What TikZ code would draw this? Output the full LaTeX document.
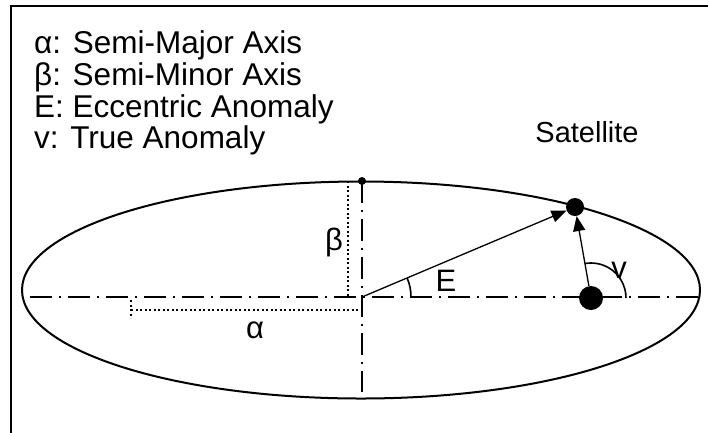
\documentclass[tikz,border=0pt]{standalone}
\usepackage{fontspec}
\setmainfont{Liberation Sans}
\usetikzlibrary{arrows.meta}
\tikzset{
  axisline/.style={line width=1.6pt, dash pattern=on 22pt off 7pt on 2pt off 7pt},
  dimline/.style={line width=1.6pt, dash pattern=on 2pt off 2.5pt},
  vec/.style={line width=1.3pt, -{Triangle[length=15pt,width=12pt]}},
  body/.style={circle, fill=black, inner sep=0pt},
  legend/.style={font=\fontsize{31.5}{34}\selectfont, anchor=base west, inner sep=0pt},
  lbl/.style={font=\fontsize{31}{34}\selectfont, inner sep=0pt},
}

\begin{document}
\begin{tikzpicture}[x=1pt,y=-1pt]
\useasboundingbox (0,0) rectangle (708,432);
\coordinate (O) at (362,297);
\coordinate (T) at (362,181);
\coordinate (L) at (30,297);
\coordinate (R) at (700,297);
\coordinate (B) at (362,392);
\coordinate (P) at (131,310);
\coordinate (Q) at (362,310);

% frame and orbit
\draw[line width=2pt] (720,6) -| (11,440);
\draw[line width=2pt] (361,290) ellipse (339 and 108.5);

% axes
\draw[axisline] (L) -- (R);
\draw[axisline] (T) -- (B);
\draw[line width=1.6pt] (O) -- (Q);

% semi-axes
\draw[dimline] (348,181) -- (348,297);
\draw[dimline] (P) -- (Q);
\draw[dimline] (131,300) -- (131,318);

\node[body, minimum size=8pt] (top) at (T) {};
\node[body, minimum size=18pt] (sat) at (575,207) {};
\node[body, minimum size=24pt] (foc) at (591,298) {};

\draw[vec] (O) -- (sat);
\draw[vec] (foc) -- (sat);
\draw[line width=1.6pt] (O) ++(49,0) arc[start angle=0, end angle=-22.9, radius=49];
\draw[line width=1.6pt] (foc) ++(35,0) arc[start angle=0, end angle=-100, radius=35];

\node[legend] (leg1) at (34,53) {α: Semi-Major Axis};
\node[legend] (leg2) at (34,85) {β: Semi-Minor Axis};
\node[legend] (leg3) at (34,117) {E: Eccentric Anomaly};
\node[legend] (leg4) at (34,148) {v: True Anomaly};

\node[font=\fontsize{29}{32}\selectfont, anchor=base, inner sep=0pt] (satlbl) at (587,142) {Satellite};
\node[lbl] (lblb) at (334,242) {β};
\node[lbl] (lbla) at (255,330) {α};
\node[lbl] (lblE) at (446,281) {E};
\node[lbl] (lblv) at (619,270) {v};
\end{tikzpicture}
\end{document}
